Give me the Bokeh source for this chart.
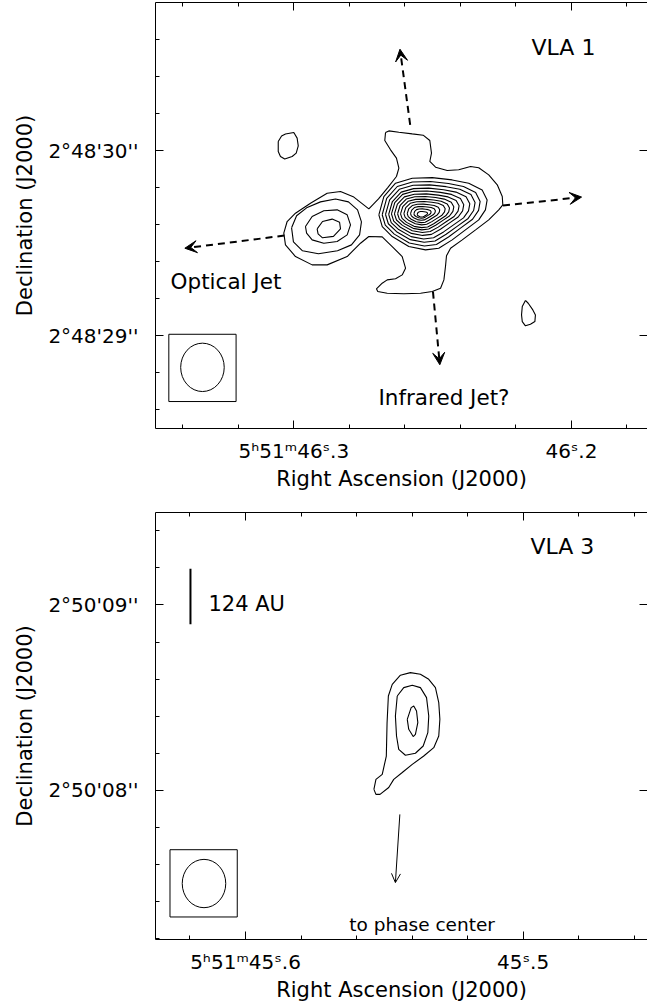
import numpy as np
from bokeh.plotting import figure
from bokeh.models import (FixedTicker, CustomJSTickFormatter, LinearAxis, Label,
                          Arrow, VeeHead, OpenHead, Range1d)
from bokeh.layouts import column
from bokeh.embed import file_html
from bokeh.resources import INLINE

FONT = "DejaVu Sans"
# arcsec of sky per second of RA at Dec ~ +2°49'
RA_SCALE = 15.0 * np.cos(np.radians(2.0 + 49.0 / 60.0))

# ------------------------------------------------------------------ VLA 1 (top)
# offsets in arcsec: x = east of 5h51m46.3s, y = north of +2°48'29"
vla1_ra_ticks_s = [46.3, 46.2]
vla1_ra_labels = ["5ʰ51ᵐ46ˢ.3", "46ˢ.2"]
vla1_dec_ticks = [0.0, 1.0]
vla1_dec_labels = ["2°48'29''", "2°48'30''"]

vla1_outer_x = [-0.495, -0.513, -0.567, -0.639, -0.698, -0.734, -0.743, -0.734, -0.765, -0.828,
                -0.890, -0.954, -0.998, -1.052, -1.098, -1.125, -1.128, -1.106, -1.052, -0.981,
                -0.909, -0.846, -0.824, -0.819, -0.810, -0.792, -0.747, -0.684, -0.594, -0.504,
                -0.453, -0.446, -0.477, -0.504, -0.549, -0.585, -0.603, -0.585, -0.531, -0.477,
                -0.405, -0.360, -0.288, -0.180, -0.099, -0.009, 0.045, 0.054, 0.036, -0.009,
                -0.090, -0.180, -0.252, -0.324, -0.405, -0.457, -0.506, -0.554, -0.567, -0.554,
                -0.522, -0.491]
vla1_outer_y = [1.097, 1.106, 1.099, 1.090, 1.083, 1.054, 0.986, 0.941, 0.910, 0.892,
                0.896, 0.914, 0.907, 0.869, 0.815, 0.752, 0.707, 0.680, 0.626, 0.572,
                0.518, 0.473, 0.432, 0.378, 0.302, 0.257, 0.239, 0.230, 0.227, 0.230,
                0.239, 0.254, 0.284, 0.302, 0.308, 0.329, 0.365, 0.428, 0.482, 0.534,
                0.536, 0.500, 0.428, 0.383, 0.383, 0.428, 0.491, 0.554, 0.617, 0.662,
                0.716, 0.770, 0.779, 0.749, 0.685, 0.739, 0.799, 0.860, 0.905, 0.959,
                1.004, 1.054]

# shape of the nested rings of the main peak (east, north; unit half-sizes)
ring_shape_e = [1.000, 0.905, 0.682, 0.364, -0.017, -0.398, -0.714, -0.970, -1.065,
                -1.032, -0.905, -0.651, -0.398, -0.143, 0.110, 0.429, 0.745, 0.935]
ring_shape_n = [-0.032, 0.474, 0.845, 0.983, 1.000, 0.936, 0.845, 0.660, 0.383,
                0.106, -0.170, -0.447, -0.723, -0.953, -1.000, -0.909, -0.632, -0.355]
# read centre and half-extent of each nested ring (arcsec)
vla1_ring_x = [-0.742, -0.733, -0.729, -0.724, -0.716, -0.712, -0.707, -0.704, -0.702, -0.697, -0.695, -0.693, -0.693]
vla1_ring_y = [0.659, 0.659, 0.660, 0.660, 0.662, 0.662, 0.662, 0.661, 0.662, 0.661, 0.661, 0.660, 0.656]
vla1_ring_a = [0.283, 0.256, 0.234, 0.212, 0.189, 0.169, 0.147, 0.128, 0.108, 0.085, 0.065, 0.045, 0.027]
vla1_ring_b = [0.195, 0.174, 0.155, 0.137, 0.120, 0.104, 0.090, 0.077, 0.063, 0.050, 0.037, 0.025, 0.015]

# eastern knot (optical jet side)
vla1_knot_x = [
    [0.012, -0.015, -0.069, -0.144, -0.225, -0.295, -0.344, -0.365, -0.355, -0.311, -0.236, -0.133, -0.047, 0.002],
    [-0.063, -0.099, -0.162, -0.234, -0.288, -0.306, -0.288, -0.234, -0.162, -0.099, -0.069],
    [-0.126, -0.155, -0.207, -0.247, -0.252, -0.214, -0.155, -0.131],
]
vla1_knot_y = [
    [0.583, 0.648, 0.691, 0.723, 0.739, 0.723, 0.680, 0.615, 0.545, 0.491, 0.459, 0.443, 0.459, 0.507],
    [0.590, 0.644, 0.675, 0.680, 0.653, 0.599, 0.545, 0.509, 0.500, 0.518, 0.554],
    [0.577, 0.617, 0.630, 0.613, 0.577, 0.537, 0.529, 0.550],
]
# isolated weak blobs
vla1_blob_x = [
    [0.084, 0.066, 0.045, 0.000, -0.018, -0.024, -0.013, 0.009, 0.049, 0.072, 0.084],
    [-1.250, -1.265, -1.290, -1.304, -1.301, -1.277, -1.250, -1.233, -1.229, -1.233],
]
vla1_blob_y = [
    [1.049, 1.079, 1.089, 1.097, 1.067, 1.025, 0.986, 0.968, 0.954, 0.968, 0.995],
    [0.191, 0.176, 0.140, 0.113, 0.077, 0.063, 0.054, 0.077, 0.113, 0.158],
]
# jet direction arrows: start -> tip
vla1_arrow_x0 = [-0.628, -0.751, 0.051, -1.129]
vla1_arrow_y0 = [1.139, 0.239, 0.541, 0.703]
vla1_arrow_x1 = [-0.573, -0.788, 0.588, -1.553]
vla1_arrow_y1 = [1.547, -0.156, 0.473, 0.749]
vla1_texts = ["VLA 1", "Optical Jet", "Infrared Jet?"]

# synthesized beam (arcsec)
beam_width = 0.235
beam_height = 0.261
beam_box = 0.363

# ------------------------------------------------------------------ VLA 3 (bottom)
# offsets in arcsec: x = east of 5h51m45.6s, y = north of +2°50'08"
vla3_ra_ticks_s = [45.6, 45.5]
vla3_ra_labels = ["5ʰ51ᵐ45ˢ.6", "45ˢ.5"]
vla3_dec_ticks = [0.0, 1.0]
vla3_dec_labels = ["2°50'08''", "2°50'09''"]

vla3_cont_x = [
    [-0.693, -0.704, -0.738, -0.760, -0.764, -0.771, -0.792, -0.836, -0.890, -0.944, -0.989, -1.025,
     -1.043, -1.049, -1.043, -1.016, -0.962, -0.900, -0.846, -0.800, -0.773, -0.726, -0.704],
    [-0.819, -0.854, -0.900, -0.944, -0.977, -0.989, -0.984, -0.959, -0.917, -0.863, -0.827, -0.815, -0.809],
    [-0.873, -0.894, -0.908, -0.923, -0.930, -0.917, -0.905, -0.881],
]
vla3_cont_y = [
    [0.005, 0.059, 0.086, 0.185, 0.365, 0.509, 0.572, 0.621, 0.635, 0.626, 0.599, 0.554,
     0.473, 0.383, 0.293, 0.230, 0.185, 0.140, 0.096, 0.059, 0.015, -0.022, -0.022],
    [0.509, 0.554, 0.567, 0.554, 0.500, 0.401, 0.311, 0.239, 0.200, 0.189, 0.221, 0.293, 0.401],
    [0.383, 0.446, 0.455, 0.428, 0.365, 0.302, 0.290, 0.329],
]
vla3_arrow = [-0.833, -0.130, -0.809, -0.498]
vla3_scalebar_len = 0.30  # arcsec = 124 AU
vla3_texts = ["VLA 3", "124 AU", "to phase center"]
ra_label = "Right Ascension (J2000)"
dec_label = "Declination (J2000)"


def closed(xs, ys):
    return list(xs) + [xs[0]], list(ys) + [ys[0]]


def make_panel(ra_ticks_s, ra_ref, ra_labels, dec_ticks, dec_labels, xr, yr,
               frame_h, top, bottom):
    p = figure(frame_width=492, frame_height=frame_h,
               x_range=Range1d(*xr), y_range=Range1d(*yr),
               x_axis_location=None, y_axis_location=None,
               output_backend="svg", toolbar_location=None,
               min_border_left=155, min_border_right=0,
               min_border_top=top, min_border_bottom=bottom)
    p.outline_line_color = None
    p.background_fill_color = "white"
    p.border_fill_color = "white"
    p.grid.grid_line_color = None

    xmaj = [(t - ra_ref) * RA_SCALE for t in ra_ticks_s]
    step = 0.02 * RA_SCALE
    xmin = list(np.arange(-12, 6) * step)
    ymin = list(np.round(np.arange(-5, 10) * 0.2, 3))
    xt = FixedTicker(ticks=xmaj, minor_ticks=xmin)
    yt = FixedTicker(ticks=dec_ticks, minor_ticks=ymin)
    xf = CustomJSTickFormatter(args=dict(pos=xmaj, labels=ra_labels), code="""
        for (let i = 0; i < pos.length; i++) { if (Math.abs(pos[i] - tick) < 1e-6) return labels[i]; }
        return "";""")
    yf = CustomJSTickFormatter(args=dict(pos=dec_ticks, labels=dec_labels), code="""
        for (let i = 0; i < pos.length; i++) { if (Math.abs(pos[i] - tick) < 1e-6) return labels[i]; }
        return "";""")
    blank = CustomJSTickFormatter(code="return '';")

    def common(ax):
        ax.major_tick_in = 8
        ax.major_tick_out = 0
        ax.minor_tick_in = 4
        ax.minor_tick_out = 0
        ax.axis_line_color = "black"
        ax.major_tick_line_color = "black"
        ax.minor_tick_line_color = "black"
        ax.major_label_text_font = FONT
        ax.major_label_text_font_size = "20px"
        ax.major_label_text_color = "black"
        ax.axis_label_text_font = FONT
        ax.axis_label_text_font_size = "21px"
        ax.axis_label_text_font_style = "normal"
        ax.axis_label_text_color = "black"

    left = LinearAxis(ticker=yt, formatter=yf, axis_label=dec_label)
    common(left)
    left.major_label_standoff = 17
    left.axis_label_standoff = 8
    p.add_layout(left, "left")

    below = LinearAxis(ticker=xt, formatter=xf, axis_label=ra_label)
    common(below)
    below.major_label_standoff = 10
    below.axis_label_standoff = 1
    p.add_layout(below, "below")

    above = LinearAxis(ticker=xt, formatter=blank)
    common(above)
    above.major_label_text_font_size = "0px"
    above.major_label_standoff = 0
    p.add_layout(above, "above")

    right = LinearAxis(ticker=FixedTicker(ticks=dec_ticks), formatter=blank)
    common(right)
    right.axis_line_color = None
    right.minor_tick_line_color = None
    right.major_label_text_font_size = "0px"
    right.major_label_standoff = 0
    p.add_layout(right, "right")
    return p


# ---------------- top panel
p1 = make_panel(vla1_ra_ticks_s, 46.3, vla1_ra_labels, vla1_dec_ticks, vla1_dec_labels,
                (0.7464, -1.9088), (-0.500, 1.799), 426, 2, 70)

xs, ys = [], []
cx, cy = closed(vla1_outer_x, vla1_outer_y)
xs.append(cx); ys.append(cy)
for x0, y0, a, b in zip(vla1_ring_x, vla1_ring_y, vla1_ring_a, vla1_ring_b):
    rx = [x0 + a * u for u in ring_shape_e]
    ry = [y0 + b * v for v in ring_shape_n]
    cx, cy = closed(rx, ry)
    xs.append(cx); ys.append(cy)
for kx, ky in zip(vla1_knot_x + vla1_blob_x, vla1_knot_y + vla1_blob_y):
    cx, cy = closed(kx, ky)
    xs.append(cx); ys.append(cy)
p1.multi_line(xs, ys, line_color="black", line_width=1.1)

for x0, y0, x1, y1 in zip(vla1_arrow_x0, vla1_arrow_y0, vla1_arrow_x1, vla1_arrow_y1):
    p1.add_layout(Arrow(end=VeeHead(size=12, fill_color="black", line_color="black"),
                        x_start=x0, y_start=y0, x_end=x1, y_end=y1,
                        line_width=2, line_dash="7 5", line_color="black"))

p1.rect([0.493], [-0.173], beam_box, beam_box, fill_color=None, line_color="black", line_width=1)
p1.ellipse([0.493], [-0.170], beam_width, beam_height, fill_color=None, line_color="black", line_width=1)

for txt, x, y, size in zip(vla1_texts, [-1.283, 0.665, -0.457], [1.554, 0.291, -0.335],
                           ["22px", "21.5px", "21.5px"]):
    p1.add_layout(Label(x=x, y=y, text=txt, text_font=FONT, text_font_size=size,
                        text_color="black", text_baseline="alphabetic", text_align="left"))

# ---------------- bottom panel
p2 = make_panel(vla3_ra_ticks_s, 45.6, vla3_ra_labels, vla3_dec_ticks, vla3_dec_labels,
                (0.4857, -2.1695), (-0.805, 1.499), 427, 14, 59)

xs, ys = [], []
for kx, ky in zip(vla3_cont_x, vla3_cont_y):
    cx, cy = closed(kx, ky)
    xs.append(cx); ys.append(cy)
p2.multi_line(xs, ys, line_color="black", line_width=1.1)

p2.add_layout(Arrow(end=OpenHead(size=9, line_width=1, line_color="black"),
                    x_start=vla3_arrow[0], y_start=vla3_arrow[1],
                    x_end=vla3_arrow[2], y_end=vla3_arrow[3],
                    line_width=1, line_color="black"))
p2.segment([0.297], [0.896], [0.297], [0.896 + vla3_scalebar_len], line_color="black", line_width=2)
p2.rect([0.226], [-0.502], beam_box, beam_box, fill_color=None, line_color="black", line_width=1)
p2.ellipse([0.224], [-0.503], beam_width, beam_height, fill_color=None, line_color="black", line_width=1)

for txt, x, y, size in zip(vla3_texts, [-1.538, 0.200, -0.560], [1.318, 1.004, -0.723],
                           ["22px", "21px", "18.5px"]):
    p2.add_layout(Label(x=x, y=y, text=txt, text_font=FONT, text_font_size=size,
                        text_color="black", text_baseline="alphabetic", text_align="left"))

layout = column(p1, p2, spacing=0)
open("out.html", "w").write(file_html(layout, INLINE))
